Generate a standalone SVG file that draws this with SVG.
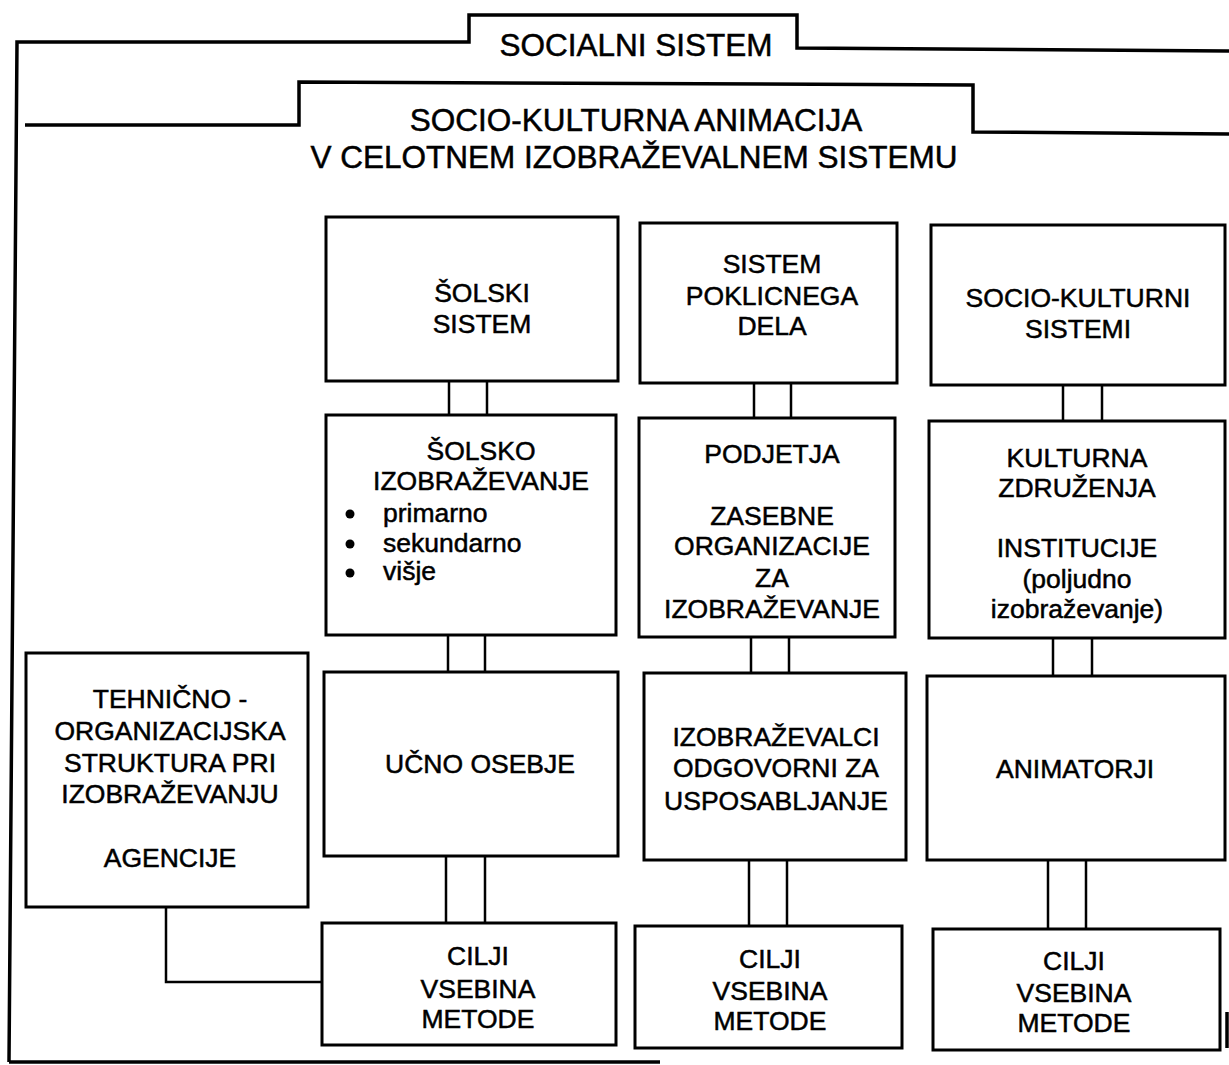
<svg xmlns="http://www.w3.org/2000/svg" width="1229" height="1065" viewBox="0 0 1229 1065">
<style>
.frame{fill:none;stroke:#000;stroke-width:3.5;stroke-linejoin:miter}
.box{fill:#fff;stroke:#000;stroke-width:3}
.conn{fill:none;stroke:#000;stroke-width:2.5}
text{font-family:"Liberation Sans",Arial,sans-serif;fill:#000;stroke:#000;stroke-width:0.5}
.h{font-size:31.5px;text-anchor:middle}
.t{font-size:26.5px;text-anchor:middle}
.l{font-size:26.5px;text-anchor:start}
</style>
<rect width="1229" height="1065" fill="#fff"/>
<g id="frame-social">
<path class="frame" d="M 9 1062 L 17 42 L 469 42 L 469 15 L 797 15 L 797 48 L 1229 51"/>
<path class="frame" d="M 9 1062 L 660 1062"/>
<path class="frame" d="M 1227 1012 L 1227 1048"/>
<text class="h" x="636" y="56">SOCIALNI SISTEM</text>
</g>
<g id="frame-animation">
<path class="frame" d="M 25 125 L 299 125 L 299 82 L 973 85 L 973 132 L 1229 134"/>
<text class="h" x="636" y="131">SOCIO-KULTURNA ANIMACIJA</text>
<text class="h" x="634" y="168">V CELOTNEM IZOBRAŽEVALNEM SISTEMU</text>
</g>
<g id="connectors">
<path class="conn" d="M449 381V415M487 381V415M448 635V672M485 635V672M446 856V923M485 856V923"/>
<path class="conn" d="M754 383V418M791 383V418M751 637V673M789 637V673M749 860V926M787 860V926"/>
<path class="conn" d="M1063 385V421M1102 385V421M1053 638V676M1092 638V676M1048 860V929M1086 860V929"/>
<path class="conn" d="M166 907V982H322"/>
</g>
<g id="solski-sistem">
<rect class="box" x="326" y="217" width="292" height="164"/>
<text class="t" x="482" y="302">ŠOLSKI</text>
<text class="t" x="482" y="333">SISTEM</text>
</g>
<g id="solsko-izobrazevanje">
<rect class="box" x="326" y="415" width="290" height="220"/>
<text class="t" x="481" y="460">ŠOLSKO</text>
<text class="t" x="481" y="490">IZOBRAŽEVANJE</text>
<circle cx="350" cy="514" r="4.5"/>
<circle cx="350" cy="544" r="4.5"/>
<circle cx="350" cy="573" r="4.5"/>
<text class="l" x="383" y="522">primarno</text>
<text class="l" x="383" y="552">sekundarno</text>
<text class="l" x="383" y="580">višje</text>
</g>
<g id="ucno-osebje">
<rect class="box" x="324" y="672" width="294" height="184"/>
<text class="t" x="480" y="773">UČNO OSEBJE</text>
</g>
<g id="cilji-1">
<rect class="box" x="322" y="923" width="294" height="122"/>
<text class="t" x="478" y="965">CILJI</text>
<text class="t" x="478" y="998">VSEBINA</text>
<text class="t" x="478" y="1028">METODE</text>
</g>
<g id="sistem-poklicnega-dela">
<rect class="box" x="640" y="223" width="257" height="160"/>
<text class="t" x="772" y="273">SISTEM</text>
<text class="t" x="772" y="305">POKLICNEGA</text>
<text class="t" x="772" y="335">DELA</text>
</g>
<g id="podjetja">
<rect class="box" x="639" y="418" width="256" height="219"/>
<text class="t" x="772" y="463">PODJETJA</text>
<text class="t" x="772" y="525">ZASEBNE</text>
<text class="t" x="772" y="555">ORGANIZACIJE</text>
<text class="t" x="772" y="587">ZA</text>
<text class="t" x="772" y="618">IZOBRAŽEVANJE</text>
</g>
<g id="izobrazevalci">
<rect class="box" x="644" y="673" width="262" height="187"/>
<text class="t" x="776" y="746">IZOBRAŽEVALCI</text>
<text class="t" x="776" y="777">ODGOVORNI ZA</text>
<text class="t" x="776" y="810">USPOSABLJANJE</text>
</g>
<g id="cilji-2">
<rect class="box" x="635" y="926" width="267" height="122"/>
<text class="t" x="770" y="968">CILJI</text>
<text class="t" x="770" y="1000">VSEBINA</text>
<text class="t" x="770" y="1030">METODE</text>
</g>
<g id="socio-kulturni-sistemi">
<rect class="box" x="931" y="225" width="294" height="160"/>
<text class="t" x="1078" y="307">SOCIO-KULTURNI</text>
<text class="t" x="1078" y="338">SISTEMI</text>
</g>
<g id="kulturna-zdruzenja">
<rect class="box" x="929" y="421" width="296" height="217"/>
<text class="t" x="1077" y="467">KULTURNA</text>
<text class="t" x="1077" y="497">ZDRUŽENJA</text>
<text class="t" x="1077" y="557">INSTITUCIJE</text>
<text class="t" x="1077" y="588">(poljudno</text>
<text class="t" x="1077" y="618">izobraževanje)</text>
</g>
<g id="animatorji">
<rect class="box" x="927" y="676" width="298" height="184"/>
<text class="t" x="1075" y="778">ANIMATORJI</text>
</g>
<g id="cilji-3">
<rect class="box" x="933" y="929" width="287" height="121"/>
<text class="t" x="1074" y="970">CILJI</text>
<text class="t" x="1074" y="1002">VSEBINA</text>
<text class="t" x="1074" y="1032">METODE</text>
</g>
<g id="agencije">
<rect class="box" x="26" y="653" width="282" height="254"/>
<text class="t" x="170" y="708">TEHNIČNO -</text>
<text class="t" x="170" y="740">ORGANIZACIJSKA</text>
<text class="t" x="170" y="772">STRUKTURA PRI</text>
<text class="t" x="170" y="803">IZOBRAŽEVANJU</text>
<text class="t" x="170" y="867">AGENCIJE</text>
</g>
</svg>
